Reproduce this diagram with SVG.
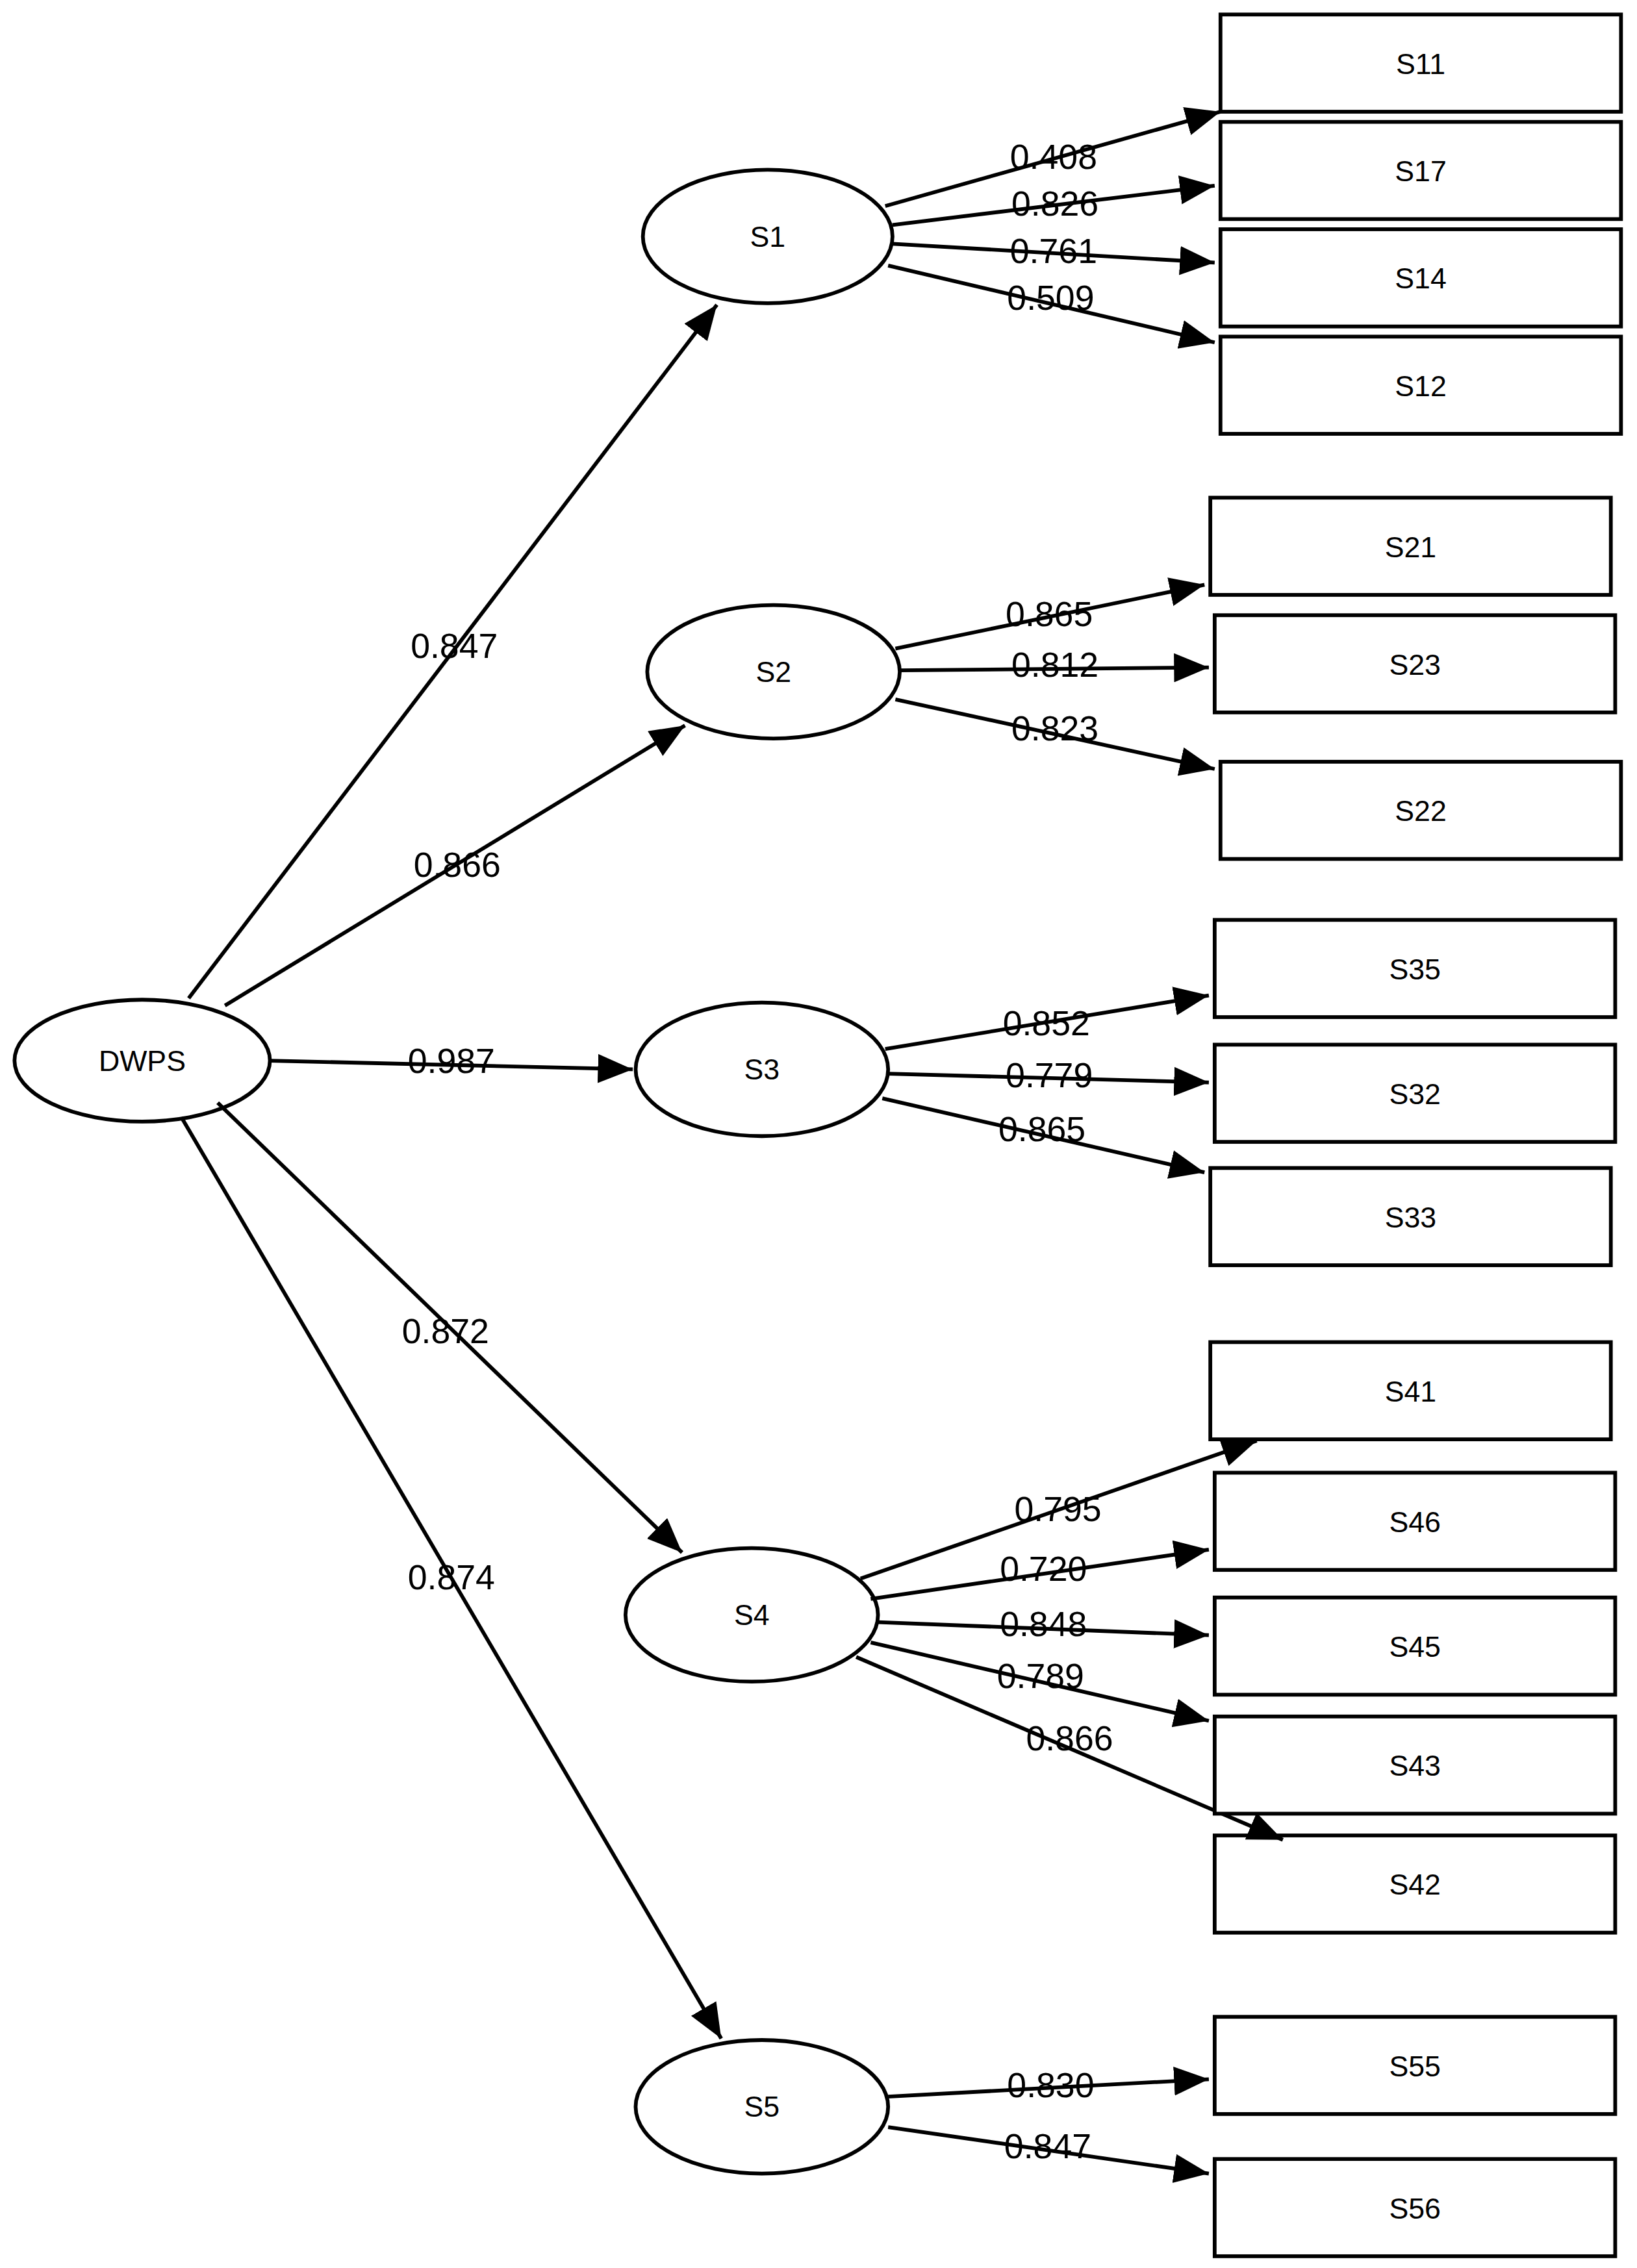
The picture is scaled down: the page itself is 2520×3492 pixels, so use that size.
<svg xmlns="http://www.w3.org/2000/svg" width="2520" height="3492" viewBox="0 0 2520 3492">
<style>
.n{fill:#fff;stroke:#000;stroke-width:2.6}
.t{font-family:"Liberation Sans",Arial,sans-serif;font-size:20px;text-anchor:middle;dominant-baseline:central}
.l{font-family:"Liberation Sans",Arial,sans-serif;font-size:24px;text-anchor:middle;dominant-baseline:central}
.e{stroke:#000;stroke-width:2.6;fill:none;marker-end:url(#a)}
</style>
<defs><marker id="a" markerUnits="userSpaceOnUse" markerWidth="26" markerHeight="22" refX="24" refY="10" orient="auto"><path d="M0,0L24,10L0,20z" fill="#000"/></marker></defs>
<rect width="2520" height="3492" fill="#fff"/>
<g transform="scale(2.234)">
<g id="DWPS"><ellipse class="n" cx="98" cy="731" rx="88" ry="42"/><text class="t" x="98" y="731">DWPS</text></g>
<g id="S1"><ellipse class="n" cx="529" cy="163" rx="86" ry="46"/><text class="t" x="529" y="163">S1</text></g>
<g id="S2"><ellipse class="n" cx="533" cy="463" rx="87" ry="46"/><text class="t" x="533" y="463">S2</text></g>
<g id="S3"><ellipse class="n" cx="525" cy="737" rx="87" ry="46"/><text class="t" x="525" y="737">S3</text></g>
<g id="S4"><ellipse class="n" cx="518" cy="1113" rx="87" ry="46"/><text class="t" x="518" y="1113">S4</text></g>
<g id="S5"><ellipse class="n" cx="525" cy="1452" rx="87" ry="46"/><text class="t" x="525" y="1452">S5</text></g>
<g id="S11"><rect class="n" x="841" y="10" width="276" height="67"/><text class="t" x="979" y="44">S11</text></g>
<g id="S17"><rect class="n" x="841" y="84" width="276" height="67"/><text class="t" x="979" y="118">S17</text></g>
<g id="S14"><rect class="n" x="841" y="158" width="276" height="67"/><text class="t" x="979" y="192">S14</text></g>
<g id="S12"><rect class="n" x="841" y="232" width="276" height="67"/><text class="t" x="979" y="266">S12</text></g>
<g id="S21"><rect class="n" x="834" y="343" width="276" height="67"/><text class="t" x="972" y="377">S21</text></g>
<g id="S23"><rect class="n" x="837" y="424" width="276" height="67"/><text class="t" x="975" y="458">S23</text></g>
<g id="S22"><rect class="n" x="841" y="525" width="276" height="67"/><text class="t" x="979" y="559">S22</text></g>
<g id="S35"><rect class="n" x="837" y="634" width="276" height="67"/><text class="t" x="975" y="668">S35</text></g>
<g id="S32"><rect class="n" x="837" y="720" width="276" height="67"/><text class="t" x="975" y="754">S32</text></g>
<g id="S33"><rect class="n" x="834" y="805" width="276" height="67"/><text class="t" x="972" y="839">S33</text></g>
<g id="S41"><rect class="n" x="834" y="925" width="276" height="67"/><text class="t" x="972" y="959">S41</text></g>
<g id="S46"><rect class="n" x="837" y="1015" width="276" height="67"/><text class="t" x="975" y="1049">S46</text></g>
<g id="S45"><rect class="n" x="837" y="1101" width="276" height="67"/><text class="t" x="975" y="1135">S45</text></g>
<g id="S42"><rect class="n" x="837" y="1265" width="276" height="67"/><text class="t" x="975" y="1299">S42</text></g>
<g id="S55"><rect class="n" x="837" y="1390" width="276" height="67"/><text class="t" x="975" y="1424">S55</text></g>
<g id="S56"><rect class="n" x="837" y="1488" width="276" height="67"/><text class="t" x="975" y="1522">S56</text></g>
<g id="connectors">
<line class="e" x1="130" y1="688" x2="494" y2="210"/>
<line class="e" x1="155" y1="693" x2="472" y2="500"/>
<line class="e" x1="186" y1="731" x2="436" y2="737"/>
<line class="e" x1="150" y1="760" x2="470" y2="1070"/>
<line class="e" x1="125" y1="770" x2="497" y2="1405"/>
<line class="e" x1="610" y1="142" x2="841" y2="77"/>
<line class="e" x1="615" y1="155" x2="837" y2="128"/>
<line class="e" x1="615" y1="168" x2="837" y2="181"/>
<line class="e" x1="612" y1="183" x2="837" y2="236"/>
<line class="e" x1="617" y1="447" x2="830" y2="403"/>
<line class="e" x1="620" y1="462" x2="833" y2="460"/>
<line class="e" x1="617" y1="482" x2="837" y2="530"/>
<line class="e" x1="610" y1="723" x2="833" y2="686"/>
<line class="e" x1="612" y1="740" x2="833" y2="746"/>
<line class="e" x1="608" y1="757" x2="830" y2="808"/>
<line class="e" x1="593" y1="1088" x2="866" y2="993"/>
<line class="e" x1="600" y1="1102" x2="833" y2="1068"/>
<line class="e" x1="605" y1="1118" x2="833" y2="1127"/>
<line class="e" x1="600" y1="1132" x2="833" y2="1186"/>
<line class="e" x1="590" y1="1142" x2="884" y2="1268"/>
<line class="e" x1="612" y1="1445" x2="833" y2="1433"/>
<line class="e" x1="612" y1="1466" x2="833" y2="1498"/>
</g>
<g id="S43"><rect class="n" x="837" y="1183" width="276" height="67"/><text class="t" x="975" y="1217">S43</text></g>
<g id="labels">
<text class="l" x="313" y="445">0.847</text>
<text class="l" x="315" y="596">0.866</text>
<text class="l" x="311" y="731">0.987</text>
<text class="l" x="307" y="917">0.872</text>
<text class="l" x="311" y="1087">0.874</text>
<text class="l" x="726" y="108">0.408</text>
<text class="l" x="727" y="140">0.826</text>
<text class="l" x="726" y="173">0.761</text>
<text class="l" x="724" y="205">0.509</text>
<text class="l" x="723" y="423">0.865</text>
<text class="l" x="727" y="458">0.812</text>
<text class="l" x="727" y="502">0.823</text>
<text class="l" x="721" y="705">0.852</text>
<text class="l" x="723" y="741">0.779</text>
<text class="l" x="718" y="778">0.865</text>
<text class="l" x="729" y="1040">0.795</text>
<text class="l" x="719" y="1081">0.720</text>
<text class="l" x="719" y="1119">0.848</text>
<text class="l" x="717" y="1155">0.789</text>
<text class="l" x="737" y="1198">0.866</text>
<text class="l" x="724" y="1437">0.830</text>
<text class="l" x="722" y="1479">0.847</text>
</g>
</g>
</svg>
